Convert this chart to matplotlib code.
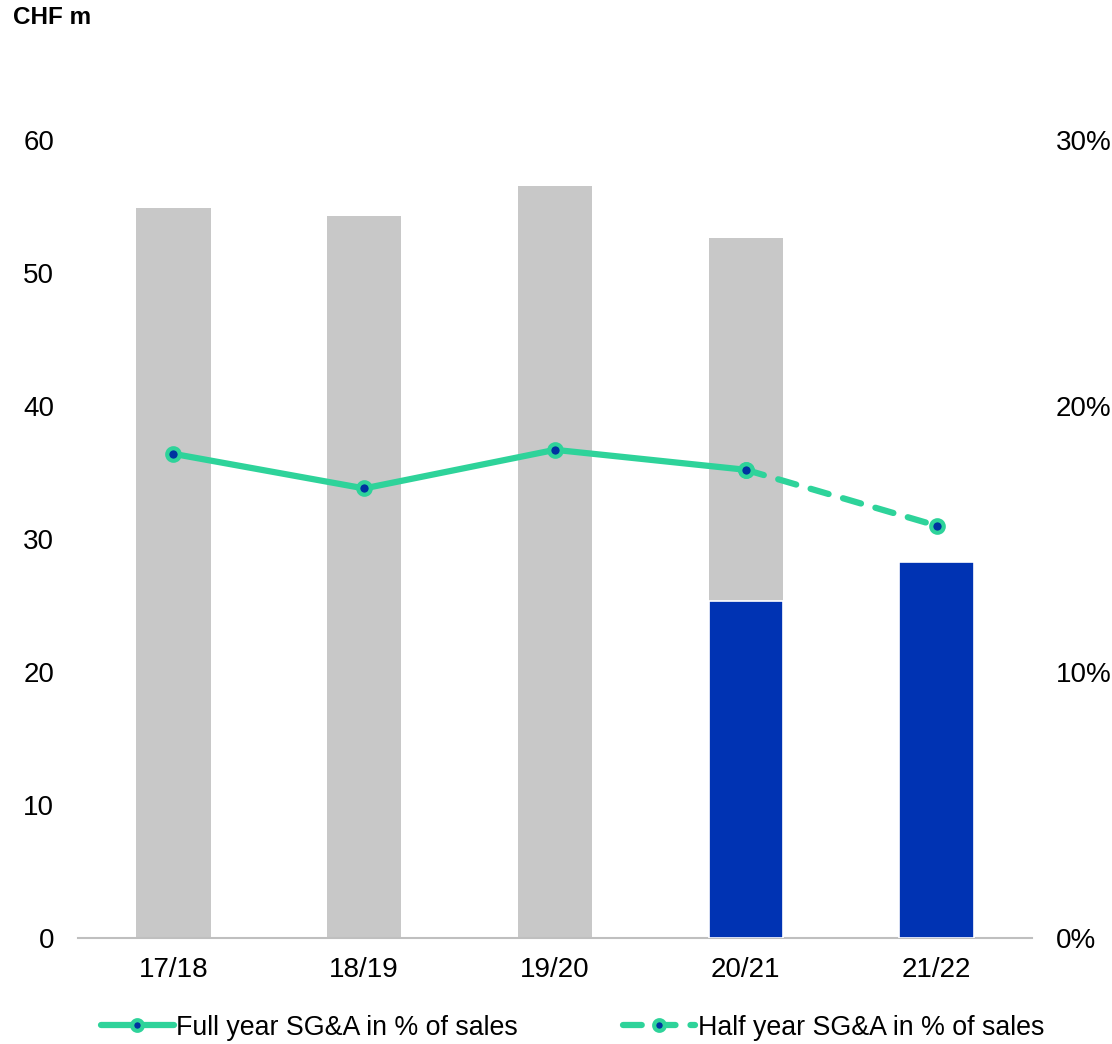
import numpy as np
import matplotlib.pyplot as plt

plt.rcParams['font.family'] = ['Liberation Sans', 'DejaVu Sans']

years = ['17/18', '18/19', '19/20', '20/21', '21/22']
full_year_sga = [54.9, 54.3, 56.5, 52.6, np.nan]
half_year_sga = [np.nan, np.nan, np.nan, 25.3, 28.3]
full_year_pct = [18.2, 16.9, 18.35, 17.6, np.nan]
half_year_pct = [np.nan, np.nan, np.nan, 17.6, 15.5]

gray = '#C8C8C8'
blue = '#0033B3'
green = '#2ED39A'
dark_blue = '#0033A0'

fig = plt.figure(figsize=(11.12, 10.44), dpi=100)
ax = fig.add_axes([0.0701, 0.1015, 0.858, 0.7645])
x = np.arange(len(years))

ax.bar(x, full_year_sga, width=0.39, color=gray, zorder=2)
ax.bar(x, half_year_sga, width=0.39, color=blue, edgecolor='white', linewidth=1.2, zorder=3)

ax.set_xlim(-0.5, 4.5)
ax.set_ylim(0, 60)
ax.set_yticks(range(0, 61, 10))
ax.set_xticks(x)
ax.set_xticklabels(years)
ax.tick_params(axis='both', length=0, labelsize=20)
ax.tick_params(axis='x', pad=14)
ax.tick_params(axis='y', pad=17)
for s in ['top', 'right', 'left']:
    ax.spines[s].set_visible(False)
ax.spines['bottom'].set_color('#BFBFBF')
ax.spines['bottom'].set_linewidth(1.5)

ax2 = ax.twinx()
ax2.set_ylim(0, 30)
ax2.set_yticks([0, 10, 20, 30])
ax2.set_yticklabels(['0%', '10%', '20%', '30%'])
ax2.tick_params(axis='y', length=0, labelsize=20, pad=17)
for s in ['top', 'right', 'left', 'bottom']:
    ax2.spines[s].set_visible(False)

ax2.plot(x, half_year_pct, color=green, lw=4.5, ls=(0, (3, 2.4)), dash_capstyle='round',
         marker='o', ms=9, mfc=dark_blue, mec=green, mew=3,
         label='Half year SG&A in % of sales', zorder=4)
ax2.plot(x, full_year_pct, color=green, lw=4.5, solid_capstyle='round', marker='o', ms=9,
         mfc=dark_blue, mec=green, mew=3, label='Full year SG&A in % of sales', zorder=5)

h, l = ax2.get_legend_handles_labels()
fig.legend(h[::-1], l[::-1], loc='center', bbox_to_anchor=(0.515, 0.0155), ncol=2,
           frameon=False, fontsize=19.3, columnspacing=3.9, handlelength=2.7, handletextpad=0.1,
           markerscale=0.85)

fig.text(0.012, 0.983, 'CHF m', fontsize=17.5, fontweight='bold', va='center')

fig.savefig('out.png', dpi=100)
